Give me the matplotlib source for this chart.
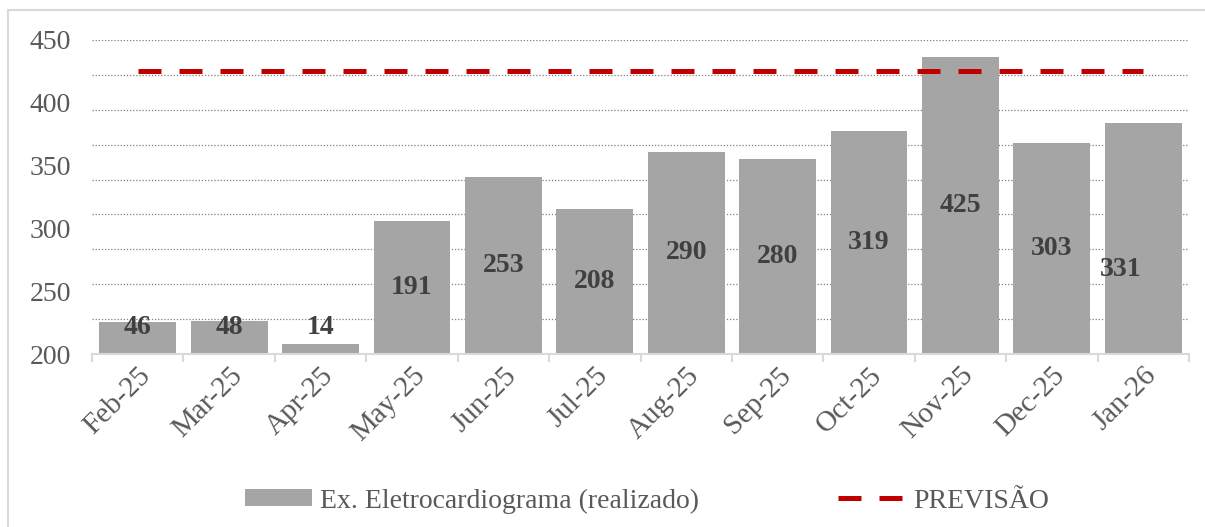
import matplotlib.pyplot as plt
from matplotlib.patches import Rectangle, Patch
from matplotlib.lines import Line2D

# data
months = ["Feb-25", "Mar-25", "Apr-25", "May-25", "Jun-25", "Jul-25",
          "Aug-25", "Sep-25", "Oct-25", "Nov-25", "Dec-25", "Jan-26"]
realizado = [46, 48, 14, 191, 253, 208, 290, 280, 319, 425, 303, 331]
previsao = [425] * 12

bar_color = "#A5A5A5"
line_color = "#C00000"
text_color = "#595959"

plt.rcParams['font.family'] = ['Liberation Serif', 'DejaVu Serif']

fig = plt.figure(figsize=(12.05, 5.27), dpi=100)
ax = fig.add_axes([92/1205, 1 - 354/527, (1189-92)/1205, (354-40)/527])

x = list(range(len(months)))

# bars on the hidden 0-450 scale
ax.bar(x, realizado, width=0.84, color=bar_color, zorder=2)
ax.set_ylim(0, 450)
ax.set_xlim(-0.5, len(months) - 0.5)
ax.set_yticks(range(0, 451, 50))
ax.yaxis.grid(True, linestyle=(0, (1, 1.5)), color="#808080", linewidth=0.9, zorder=0)
ax.set_axisbelow(True)

for s in ["top", "right", "left"]:
    ax.spines[s].set_visible(False)
ax.spines["bottom"].set_color("#D9D9D9")
ax.spines["bottom"].set_linewidth(1.5)

ax.set_xticks([i + 0.5 for i in range(-1, len(months))], minor=False)
ax.set_xticklabels([])
ax.tick_params(axis='x', which='major', length=6, color="#D9D9D9", width=1.5)
ax.set_xticks(x, minor=True)
ax.set_xticklabels(months, minor=True, rotation=45, ha='right', rotation_mode='anchor',
                   fontsize=21, color=text_color)
ax.tick_params(axis='x', which='minor', length=0, pad=6)

# data labels
for i, v in enumerate(realizado):
    ypos = max(v / 2, 38)
    xpos = i
    if months[i] == "Jan-26":
        xpos = i - 0.25
        ypos = 121
    ax.text(xpos, ypos, str(v), ha='center', va='center', fontsize=20,
            fontweight='bold', color="#404040", zorder=4)

# forecast on the visible 200-450 scale
ax2 = ax.twinx()
ax2.plot(x, previsao, color=line_color, linewidth=3.6, dashes=(4.6, 3.6), zorder=5)
ax2.set_ylim(200, 450)
ax2.set_yticks(range(200, 451, 50))
ax2.yaxis.tick_left()
ax2.tick_params(axis='y', length=0, labelsize=20, labelcolor=text_color, pad=15)
for s in ["top", "right", "left", "bottom"]:
    ax2.spines[s].set_visible(False)
ax.yaxis.set_tick_params(which='both', length=0, labelleft=False, labelright=False)

# legend
handles = [Patch(facecolor=bar_color, edgecolor='none'),
           Line2D([0], [0], color=line_color, linewidth=3.6, dashes=(4.6, 3.6))]
fig.legend(handles, ["Ex. Eletrocardiograma (realizado)", "PREVISÃO"],
           loc='center', bbox_to_anchor=(0.537, 1 - 501/527), ncol=2, frameon=False,
           fontsize=20, labelcolor=text_color, handlelength=2.4, handleheight=0.55,
           columnspacing=5.0, handletextpad=0.3)

# outer border
fig.patches.append(Rectangle((8/1205, -0.05), 1.1, 1 - 10/527 + 0.05,
                             transform=fig.transFigure, fill=False,
                             edgecolor="#D9D9D9", linewidth=1.5))

fig.savefig("out.png", dpi=100)
